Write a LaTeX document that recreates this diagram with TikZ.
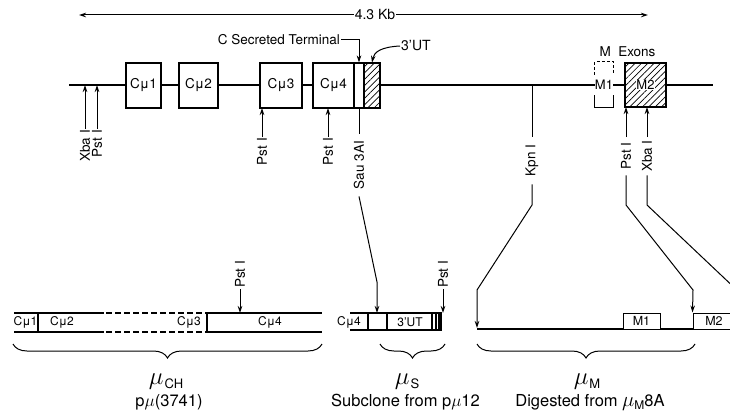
\documentclass[tikz,border=0pt]{standalone}
\usepackage{fontspec}
\setmainfont{TeX Gyre Heros}
\usetikzlibrary{arrows.meta,patterns.meta,decorations.pathreplacing,calc}
\newcommand\myfs[1]{\fontsize{#1}{#1}\selectfont}
\newcommand\mulbl[1]{{\myfs{24}$\mu$}\kern1pt\raisebox{-4pt}{\myfs{13}#1}}
\begin{document}
\begin{tikzpicture}[x=1pt,y=-1pt,
  mline/.style={line width=1.4pt},
  gbox/.style={draw, line width=1.1pt, fill=white, inner sep=0pt, minimum height=45pt, font=\myfs{13.5}},
  hbox/.style={draw, line width=1.1pt, preaction={fill=white}, pattern={Lines[angle=45,distance=4.5pt,line width=0.7pt]}, inner sep=0pt, minimum height=45pt},
  lead/.style={line width=1pt},
  tip/.style={-{Stealth[length=7pt,width=4.5pt]}},
  rlbl/.style={rotate=90, inner sep=1pt, font=\myfs{13.5}},
  bar/.style={line width=1.1pt},
  dbar/.style={line width=1.1pt, dash pattern=on 6pt off 3pt},
  sbox/.style={draw, line width=1pt, fill=white, inner sep=0pt, minimum height=16pt, font=\myfs{12.5}},
  brc/.style={decorate, decoration={brace, mirror, amplitude=14pt}, line width=1pt},
  txt/.style={inner sep=1pt, font=\myfs{13.5}},
  btxt/.style={inner sep=1pt, font=\myfs{16.5}},
  blbl/.style={font=\myfs{12}, inner sep=0pt}]
\useasboundingbox (0,0) rectangle (730,412);
\clip (0,0) rectangle (730,412);

% scale arrow
\node[txt, font=\myfs{14}] (kb) at (375,15) {4.3 Kb};
\coordinate (kbL) at (79,15);
\coordinate (kbR) at (648,15);
\draw[lead,tip] (kb.west) -- (kbL);
\draw[lead,tip] (kb.east) -- (kbR);

% main line
\coordinate (mlL) at (69,85);
\coordinate (mlR) at (713,85);
\draw[mline] (mlL) -- (mlR);

% exon boxes
\node[gbox, minimum width=35pt] (c1) at (143.5,85.5) {Cμ1};
\node[gbox, minimum width=39pt] (c2) at (198.5,85.5) {Cμ2};
\node[gbox, minimum width=42pt] (c3) at (281,85.5) {Cμ3};
\node[gbox, minimum width=41pt] (c4) at (333.5,85.5) {Cμ4};
\node[gbox, minimum width=10pt] (sec) at (359,85.5) {};
\node[hbox, minimum width=16pt] (ut3) at (372,85.5) {};

% M exons
\node[inner sep=0pt, minimum width=18pt, minimum height=45pt, fill=white, font=\myfs{13}] (m1) at (604,84.5) {M1};
\draw[line width=0.9pt, dash pattern=on 3pt off 2pt] ($(m1.north west)+(0,13)$) -- (m1.north west) -- (m1.north east) -- ($(m1.north east)+(0,13)$);
\draw[line width=1.1pt] ($(m1.south west)+(0,-12)$) -- (m1.south west) -- (m1.south east) -- ($(m1.south east)+(0,-12)$);
\node[hbox, minimum width=41pt, minimum height=44pt] (m2) at (645.5,85) {};
\node[fill=white, inner sep=0.5pt, font=\myfs{13}] (m2t) at (m2) {M2};
\node[txt] (mex) at (627.5,52) {M\ \ Exons};

% upper annotations
\node[txt, anchor=east] (cst) at (341,40) {C Secreted Terminal};
\draw[lead,tip] (cst.east) -| (sec.north);
\node[txt, anchor=west, font=\myfs{14}] (utl) at (400,46) {3'UT};
\draw[lead,tip] (utl.west) .. controls (381,47) and (374,52) .. (ut3.north);

% restriction sites below main line
\node[rlbl, anchor=east] (xba1) at (85,129) {Xba I};
\coordinate (xba1T) at (85,85);
\draw[lead,tip] (xba1.east) -- (xba1T);
\node[rlbl, anchor=east] (pst1) at (97,129) {Pst I};
\coordinate (pst1T) at (97,85);
\draw[lead,tip] (pst1.east) -- (pst1T);

\node[rlbl, anchor=east] (pst3) at (262,137) {Pst I};
\coordinate (pst3T) at (262,108);
\draw[lead,tip] (pst3.east) -- (pst3T);
\node[rlbl, anchor=east] (pst4) at (328,137) {Pst I};
\coordinate (pst4T) at (328,108);
\draw[lead,tip] (pst4.east) -- (pst4T);

% Sau 3AI
\node[rlbl, anchor=east, minimum width=62pt] (sau) at (359,134) {Sau 3AI};
\draw[lead] (sec.south) -- (sau.east);
\coordinate (sauB) at (377,282);
\coordinate (sauT) at (377,313);
\draw[lead,tip] (sau.west) -- (sauB) -- (sauT);

% Kpn I
\coordinate (kpnS) at (532,85);
\node[rlbl, anchor=east, minimum width=47pt] (kpn) at (532,137) {Kpn I};
\draw[lead] (kpnS) -- (kpn.east);
\coordinate (kpnA) at (532,205);
\coordinate (kpnB) at (477,290);
\coordinate (kpnT) at (477,328);
\draw[lead,tip] (kpn.west) -- (kpnA) -- (kpnB) -- (kpnT);

% Pst I / Xba I under M2
\node[rlbl, anchor=east, minimum width=38pt] (pst5) at (626,137) {Pst I};
\coordinate (pst5T) at (626,107);
\draw[lead,tip] (pst5.east) -- (pst5T);
\node[rlbl, anchor=east, minimum width=38pt] (xba5) at (647,137) {Xba I};
\coordinate (xba5T) at (647,107);
\draw[lead,tip] (xba5.east) -- (xba5T);

% lower bars
% left bar muCH
\draw[bar] (14,313) -- (104,313);
\draw[dbar] (106,313) -- (203,313);
\draw[bar] (205,313) -- (322,313);
\draw[bar] (14,332) -- (104,332);
\draw[dbar] (106,332) -- (203,332);
\draw[bar] (205,332) -- (322,332);
\draw[bar] (38,313) -- (38,332);
\draw[bar] (207,313) -- (207,332);
\node[blbl] (lc1) at (25.5,322.5) {Cμ1};
\node[blbl] (lc2) at (62,322.5) {Cμ2};
\node[blbl] (lc3) at (189,322.5) {Cμ3};
\node[blbl] (lc4) at (270,322.5) {Cμ4};
\node[rlbl, anchor=west] (pstb) at (240,289) {Pst I};
\coordinate (pstbT) at (240,313);
\draw[lead,tip] (pstb.west) -- (pstbT);

% middle bar muS
\draw[bar] (350,313) -- (442,313);
\draw[bar] (350,330) -- (442,330);
\draw[bar] (368,313) -- (368,330);
\draw[bar] (387,313) -- (387,330);
\draw[bar] (432,313) -- (432,330);
\draw[bar] (436,313) -- (436,330);
\fill (438,313) rectangle (442,330);
\node[blbl] (mc4) at (349,322) {Cμ4};
\node[blbl] (mut) at (410,322) {3'UT};
\node[rlbl, anchor=west] (psts) at (443,289) {Pst I};
\coordinate (pstsT) at (443,313);
\draw[lead,tip] (psts.west) -- (pstsT);

% right bar muM
\coordinate (rbL) at (477,329);
\coordinate (rbR) at (735,329);
\draw[bar] (rbL) -- (rbR);
\node[sbox, minimum width=37pt] (m1b) at (641.5,321) {M1};
\node[sbox, minimum width=42pt] (m2b) at (714,321) {M2};

% connectors to right bar
\coordinate (pst5A) at (626,205);
\coordinate (pst5B) at (693,290);
\draw[lead,tip] (pst5.west) -- (pst5A) -- (pst5B) -- (m2b.north west);
\coordinate (xba5A) at (647,205);
\coordinate (xba5B) at (740,293);
\draw[lead] (xba5.west) -- (xba5A) -- (xba5B);

% braces
\draw[brc] (13,344) -- (322,344);
\draw[brc] (380,344) -- (445,344);
\draw[brc] (477,344) -- (695,344);

% bottom labels
\node[inner sep=0pt] (lch) at (166,382) {\mulbl{CH}};
\node[btxt] (lchb) at (169,402) {p$\mu$(3741)};
\node[inner sep=0pt] (ls) at (407,382) {\mulbl{S}};
\node[btxt] (lsb) at (405.5,402) {Subclone from p$\mu$12};
\node[inner sep=0pt] (lm) at (587,382) {\mulbl{M}};
\node[btxt] (lmb) at (590,402) {Digested from {\myfs{20}$\mu$}\raisebox{-3pt}{\myfs{12}M}8A};
\end{tikzpicture}
\end{document}
